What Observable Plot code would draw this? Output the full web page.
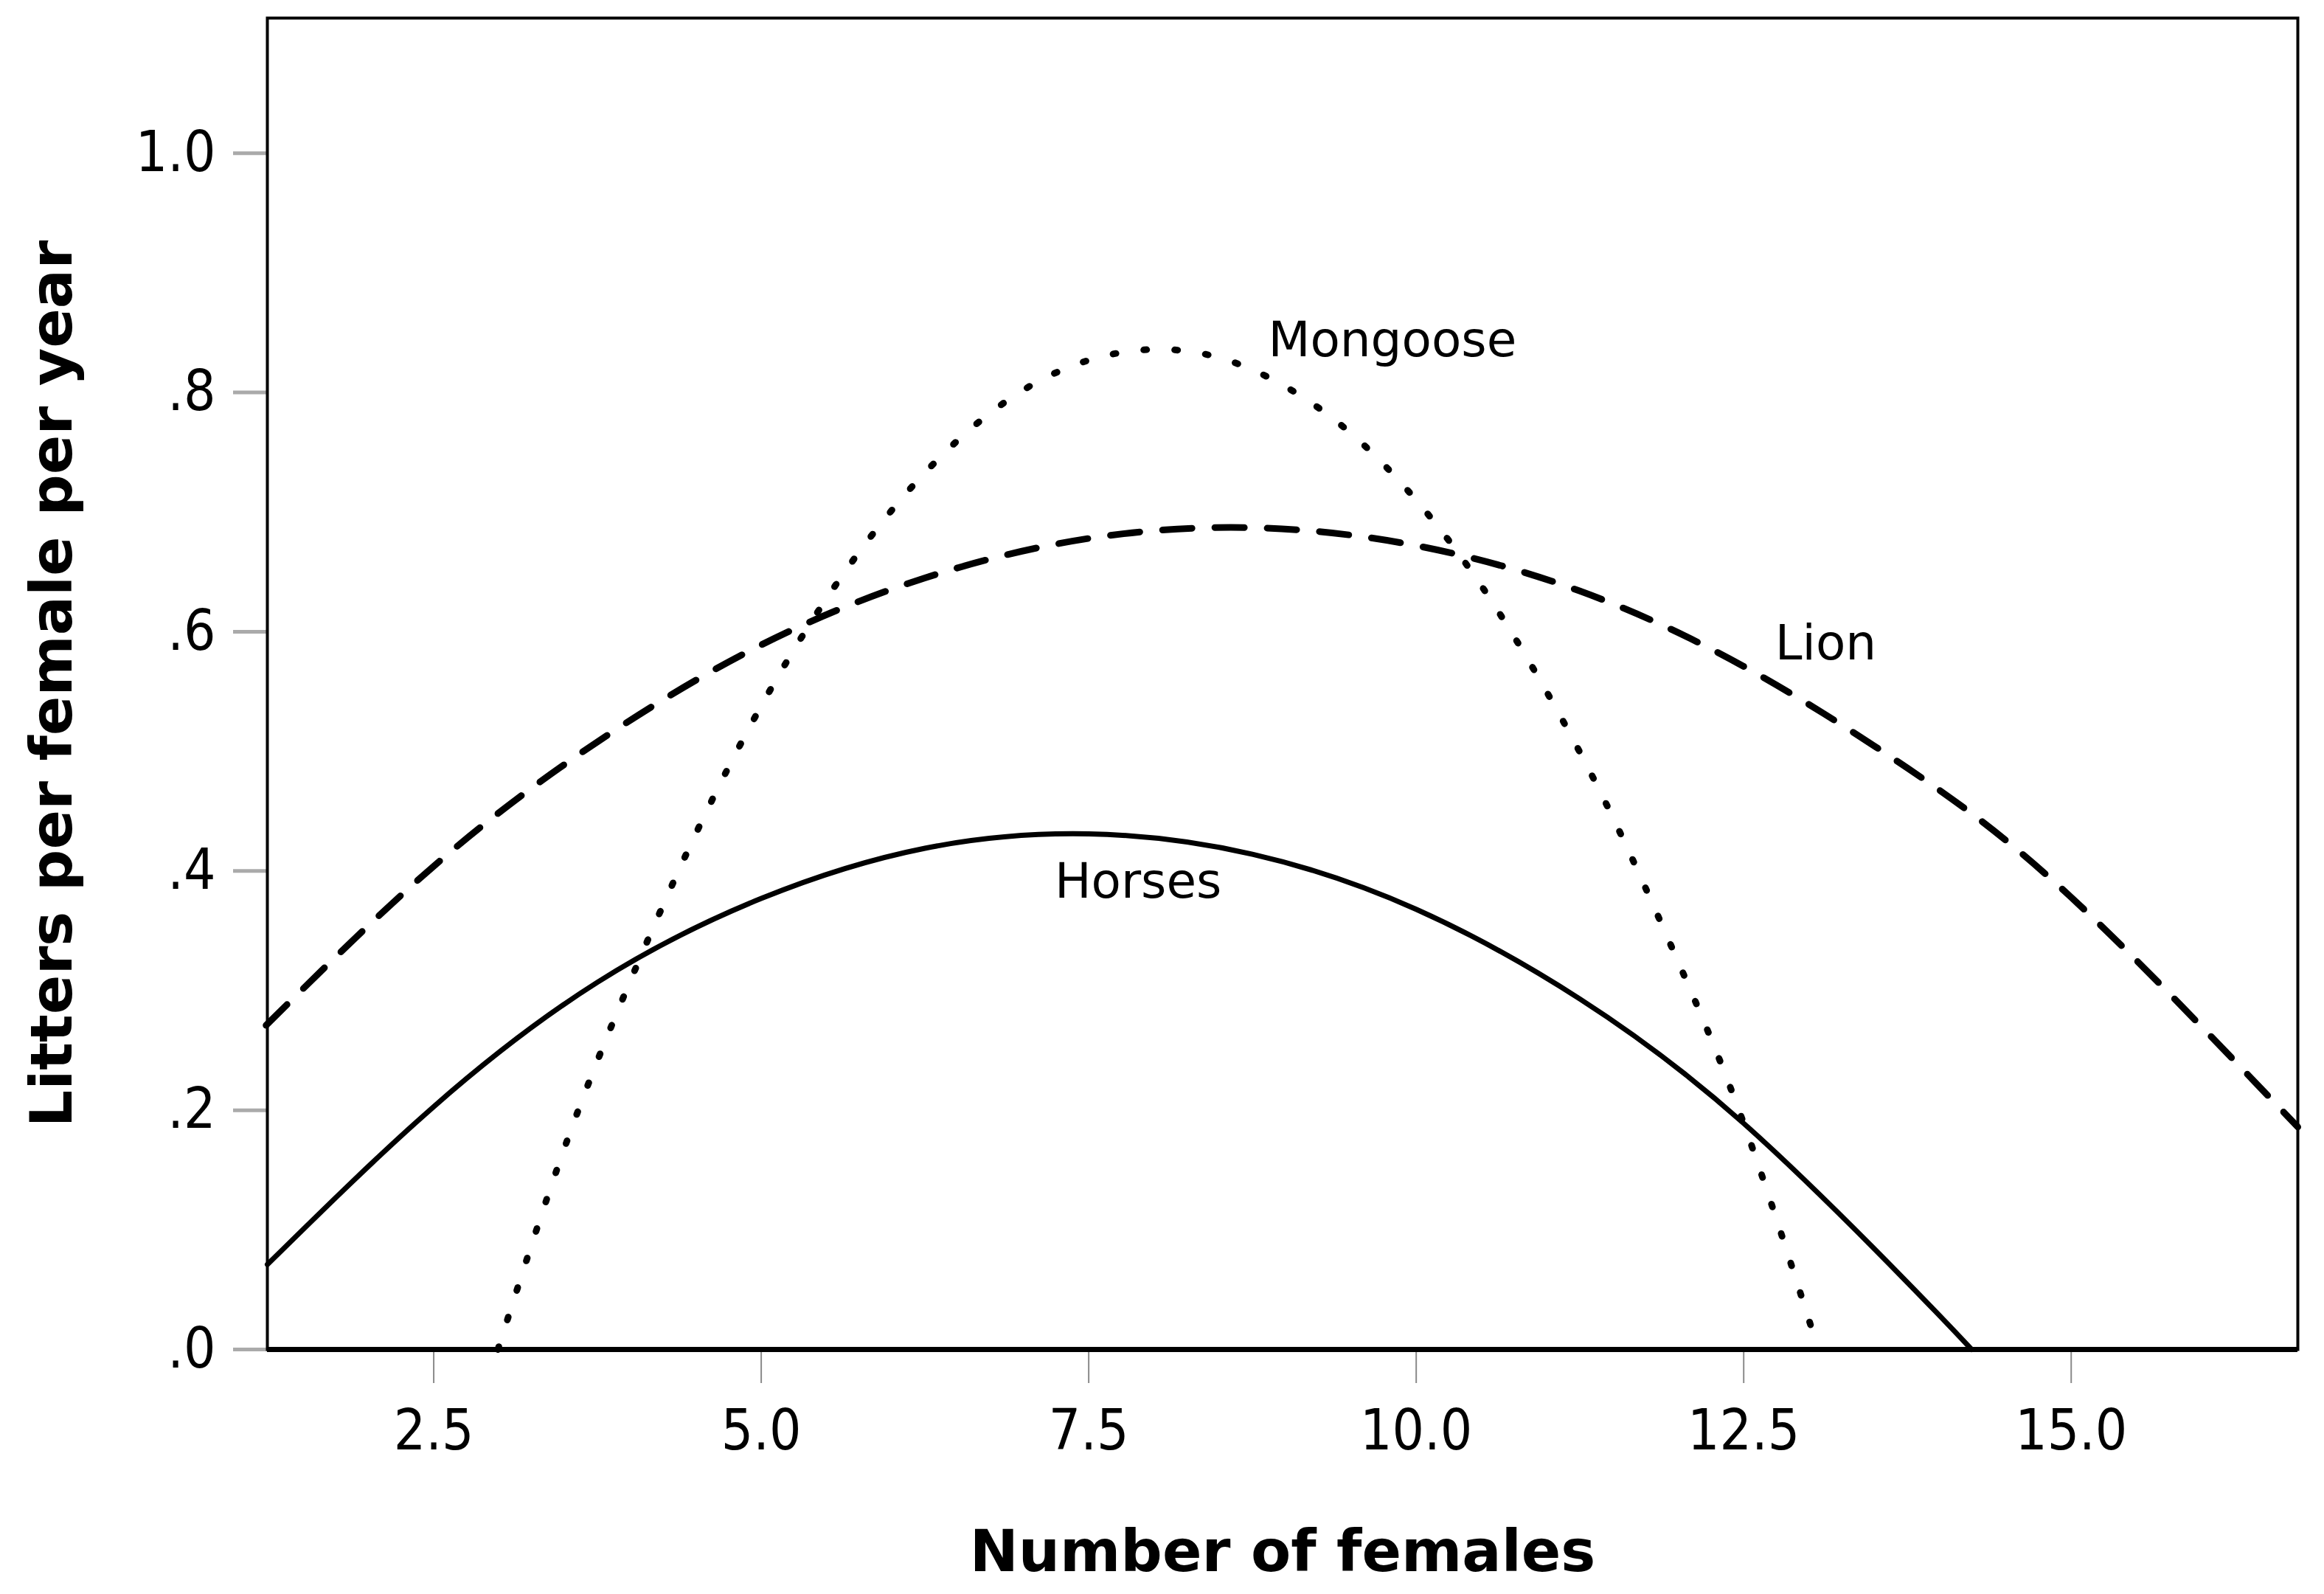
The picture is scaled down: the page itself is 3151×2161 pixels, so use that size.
<!DOCTYPE html>
<html>
<head>
<meta charset="utf-8">
<script src="https://cdn.jsdelivr.net/npm/d3@7"></script>
<script src="https://cdn.jsdelivr.net/npm/@observablehq/plot@0.6"></script>
<style>
  html, body { margin: 0; padding: 0; background: #fff; }
</style>
</head>
<body>
<div id="chart"></div>
<script>
// Values
const horsesX = [1.23, 2.5, 3.75, 5.0, 6.25, 7.5, 8.75, 10.0, 11.25, 12.5, 13.75, 14.24];
const horsesY = [0.071, 0.203, 0.307, 0.377, 0.419, 0.431, 0.414, 0.368, 0.293, 0.189, 0.056, 0.0];

const lionX = [1.22, 2.5, 3.75, 5.0, 6.25, 7.5, 8.75, 10.0, 11.25, 12.5, 13.75, 15.0, 16.73];
const lionY = [0.271, 0.404, 0.508, 0.589, 0.645, 0.678, 0.687, 0.672, 0.634, 0.571, 0.486, 0.378, 0.186];

const mongooseX = [2.99, 3.5, 4.0, 4.5, 5.0, 5.5, 6.0, 6.5, 7.0, 7.5, 8.0, 8.5, 9.0, 9.5, 10.0, 10.5, 11.0, 11.5, 12.0, 12.5, 13.07];
const mongooseY = [0.0, 0.169, 0.308, 0.431, 0.538, 0.628, 0.702, 0.760, 0.802, 0.827, 0.836, 0.829, 0.805, 0.766, 0.710, 0.638, 0.549, 0.445, 0.324, 0.189, 0.0];

const labelNames = ["Mongoose", "Lion", "Horses"];
const labelX = [8.87, 12.74, 7.24];
const labelY = [0.843, 0.590, 0.391];

const xTicks = [2.5, 5.0, 7.5, 10.0, 12.5, 15.0];
const yTicks = [0, 0.2, 0.4, 0.6, 0.8, 1.0];
const xDomain = [1.23, 16.73];
const yDomain = [0, 1.113];

const toRows = (xs, ys) => xs.map((x, i) => ({x, y: ys[i]}));
const horses = toRows(horsesX, horsesY);
const lion = toRows(lionX, lionY);
const mongoose = toRows(mongooseX, mongooseY);
const labels = labelNames.map((t, i) => ({t, x: labelX[i], y: labelY[i]}));

const tickFont = "'DejaVu Sans Condensed', 'DejaVu Sans', sans-serif";
const labFont = "'DejaVu Sans', sans-serif";

const chart = Plot.plot({
  width: 3151,
  height: 2161,
  marginLeft: 362,
  marginRight: 36,
  marginTop: 24,
  marginBottom: 332,
  style: {background: "#fff", color: "#000"},
  x: {domain: xDomain},
  y: {domain: yDomain},
  marks: [
    Plot.axisX({
      ticks: xTicks, tickSize: 46, tickPadding: 36, stroke: "#8a8a8a", strokeWidth: 2,
      fill: "#000", tickFormat: d3.format(".1f"), label: null,
      fontSize: 76, fontFamily: tickFont
    }),
    Plot.axisY({
      ticks: yTicks, tickSize: 46, tickPadding: 24, stroke: "#aaaaaa", strokeWidth: 5,
      fill: "#000", tickFormat: d => d === 1 ? "1.0" : d3.format(".1f")(d).replace(/^0/, ""),
      label: null, fontSize: 76, fontFamily: tickFont
    }),
    Plot.axisX({
      ticks: [], tickSize: 0, label: "Number of females", labelAnchor: "center", labelArrow: "none",
      labelOffset: 300, fill: "#000", fontSize: 79, fontWeight: "bold", fontFamily: labFont
    }),
    Plot.axisY({
      ticks: [], tickSize: 0, label: "Litters per female per year", labelAnchor: "center", labelArrow: "none",
      labelOffset: 322, fill: "#000", fontSize: 79, fontWeight: "bold", fontFamily: labFont
    }),
    Plot.frame({stroke: "#000", strokeWidth: 4}),
    Plot.ruleY([0], {stroke: "#000", strokeWidth: 7}),
    Plot.line(horses, {x: "x", y: "y", curve: "natural", stroke: "#000", strokeWidth: 7}),
    Plot.line(lion, {x: "x", y: "y", curve: "natural", stroke: "#000", strokeWidth: 9,
      strokeDasharray: "40,31"}),
    Plot.line(mongoose, {x: "x", y: "y", curve: "natural", stroke: "#000", strokeWidth: 9,
      strokeDasharray: "4,38", strokeLinecap: "round"}),
    Plot.text(labels, {x: "x", y: "y", text: "t", textAnchor: "start", fill: "#000",
      fontSize: 66, fontFamily: labFont})
  ]
});
document.getElementById("chart").appendChild(chart);
</script>
</body>
</html>
